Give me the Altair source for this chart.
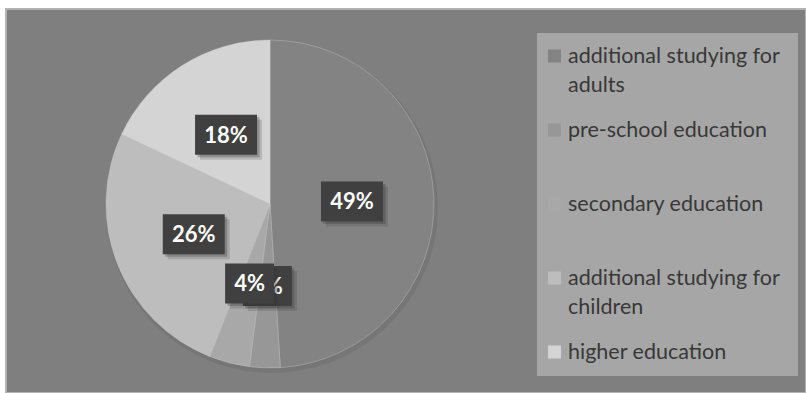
import altair as alt
import pandas as pd

# Shares of spending by education type (percent)
categories = [
    "additional studying for adults",
    "pre-school education",
    "secondary education",
    "additional studying for children",
    "higher education",
]
shares = [49, 3, 4, 26, 18]
legend_labels = [
    "additional studying for|adults",
    "pre-school education",
    "secondary education",
    "additional studying for|children",
    "higher education",
]
slice_colors = ["#838383", "#979797", "#a8a8a8", "#bdbdbd", "#d4d4d4"]

df = pd.DataFrame({
    "category": categories,
    "share": shares,
    "order": list(range(len(categories))),
    "legend": legend_labels,
})

# pie geometry (pixels inside the view)
CX, CY, R = 264, 195, 164
LABEL_R = 82

color_scale = alt.Scale(domain=categories, range=slice_colors)
theta = alt.Theta("share:Q", stack=True)
order = alt.Order("order:Q")

pie_shadow = alt.Chart(df).mark_arc(outerRadius=R + 2, color="#6c6c6c", opacity=0.45).encode(
    theta=theta, order=order, x=alt.value(CX + 2), y=alt.value(CY + 3)
)

pie = alt.Chart(df).mark_arc(outerRadius=R, stroke="#d0d0d0", strokeWidth=0.6, strokeOpacity=0.6).encode(
    theta=theta,
    order=order,
    color=alt.Color("category:N", scale=color_scale, legend=None),
    x=alt.value(CX),
    y=alt.value(CY),
)

# label positions derived from the cumulative shares
label_base = (
    alt.Chart(df)
    .transform_window(cum="sum(share)", sort=[alt.SortField("order")], frame=[None, 0])
    .transform_joinaggregate(total="sum(share)")
    .transform_calculate(
        mid="2 * PI * (datum.cum - datum.share / 2) / datum.total",
        px=f"{CX} + {LABEL_R} * sin(datum.mid)",
        py=f"{CY} - {LABEL_R} * cos(datum.mid)",
        half="6.5 * length(toString(datum.share)) + 18",
        x1="datum.px - datum.half",
        x2="datum.px + datum.half",
        y1="datum.py - 20",
        y2="datum.py + 20",
        label="datum.share + '%'",
    )
)

box_enc = dict(
    x=alt.X("x1:Q", scale=None),
    x2="x2:Q",
    y=alt.Y("y1:Q", scale=None),
    y2="y2:Q",
)

label_layers = []
for i in range(len(categories)):
    sel = label_base.transform_filter(f"datum.order == {i}")
    label_layers += [
        sel.mark_rect(color="#333333", opacity=0.18, xOffset=5, x2Offset=5, yOffset=5, y2Offset=5).encode(**box_enc),
        sel.mark_rect(color="#333333", opacity=0.3, xOffset=2.5, x2Offset=2.5, yOffset=2.5, y2Offset=2.5).encode(**box_enc),
        sel.mark_rect(color="#404040").encode(**box_enc),
        sel.mark_text(font="Lato", fontSize=22, fontWeight="bold", color="white", baseline="middle", dy=1).encode(
            x=alt.X("px:Q", scale=None), y=alt.Y("py:Q", scale=None), text="label:N"
        ),
    ]

# legend panel
legend_bg = alt.Chart(pd.DataFrame({"k": [0]})).mark_rect(color="#a6a6a6").encode(
    x=alt.value(531), x2=alt.value(792), y=alt.value(24), y2=alt.value(367)
)

legend_y = alt.Y(
    "category:N",
    scale=alt.Scale(type="point", domain=categories, range=[47, 343], padding=0),
    axis=None,
)

legend_swatch = alt.Chart(df).mark_square(size=169, opacity=1).encode(
    x=alt.value(548.5),
    y=legend_y,
    color=alt.Color("category:N", scale=color_scale, legend=None),
)

legend_text = (
    alt.Chart(df)
    .transform_calculate(lines="split(datum.legend, '|')")
    .mark_text(align="left", baseline="alphabetic", font="Lato", fontSize=21.5,
               color="#383838", lineHeight=29, dy=7)
    .encode(x=alt.value(562), y=legend_y, text="lines:N")
)

chart = (
    alt.layer(pie_shadow, pie, *label_layers, legend_bg, legend_swatch, legend_text)
    .resolve_scale(x="independent", y="independent")
    .properties(
        width=800,
        height=384,
        padding={"left": 6, "top": 9, "right": 0, "bottom": 0},
        autosize=alt.AutoSizeParams(type="none"),
        background="#ffffff",
    )
    .configure_view(fill="#7f7f7f", stroke="#b3b3b3", strokeWidth=2)
)

chart.save("out.html", embed_options={"renderer": "svg", "actions": False})
